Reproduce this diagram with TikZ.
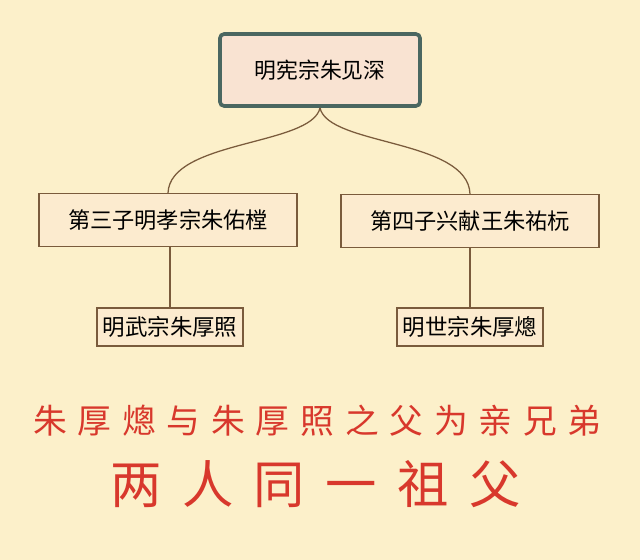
\documentclass[tikz,border=0pt]{standalone}
\usepackage{fontspec}
\setmainfont{Noto Sans CJK SC}
\newfontfamily\notewide[LetterSpace=32]{Noto Sans CJK SC}
\newfontfamily\notewider[LetterSpace=40]{Noto Sans CJK SC}
\usepackage{tikz}
\usetikzlibrary{positioning, calc}
\definecolor{paper}{HTML}{FCF0CA}
\definecolor{rootfill}{HTML}{F9E3D2}
\definecolor{rootline}{HTML}{4B6761}
\definecolor{boxfill}{HTML}{FCEBCF}
\definecolor{boxline}{HTML}{7A5B3C}
\definecolor{note}{HTML}{D8382C}

\tikzset{
  rootbox/.style={draw=rootline, fill=rootfill, line width=2.6pt,
    rounded corners=3pt, minimum width=5.0cm, minimum height=1.8cm,
    font=\fontsize{15.5pt}{18pt}\selectfont},
  sonbox/.style={draw=boxline, fill=boxfill, line width=0.9pt,
    minimum width=6.45cm, minimum height=1.32cm,
    font=\fontsize{15.8pt}{18pt}\selectfont},
  grandbox/.style={draw=boxline, fill=boxfill, line width=0.9pt,
    minimum width=3.65cm, minimum height=0.95cm, inner sep=1pt,
    font=\fontsize{16pt}{18pt}\selectfont},
  link/.style={draw=boxline, line width=0.9pt}
}

\begin{document}
\begin{tikzpicture}[x=0.025cm, y=-0.025cm]
  % background
  \fill[paper] (0,0) rectangle (640,560);
  \useasboundingbox (0,0) rectangle (640,560);

  % family tree
  \node[rootbox] (emperor) at (320,70) {明宪宗朱见深};
  \node[sonbox] (son3) at (168,220) {第三子明孝宗朱佑樘};
  \node[sonbox] (son4) at (470,221) {第四子兴献王朱祐杬};
  \node[grandbox] (wuzong) at (170,327) {明武宗朱厚照};
  \node[grandbox] (shizong) at (470,327) {明世宗朱厚熜};

  \draw[link] (emperor.south) .. controls +(-8,38) and +(2,-53) .. (son3.north);
  \draw[link] (emperor.south) .. controls +(8,38) and +(-2,-55) .. (son4.north);
  \draw[link] (son3.south -| wuzong.north) -- (wuzong.north);
  \draw[link] (son4.south) -- (shizong.north);

  % remarks
  \node[note, anchor=west, inner sep=0pt, font=\notewide\fontsize{24pt}{27pt}\selectfont]
    (line1) at (33,421) {朱厚熜与朱厚照之父为亲兄弟};
  \node[note, anchor=west, inner sep=0pt, font=\notewider\fontsize{36.5pt}{40pt}\selectfont]
    (line2) at (110,484) {两人同一祖父};
\end{tikzpicture}
\end{document}
